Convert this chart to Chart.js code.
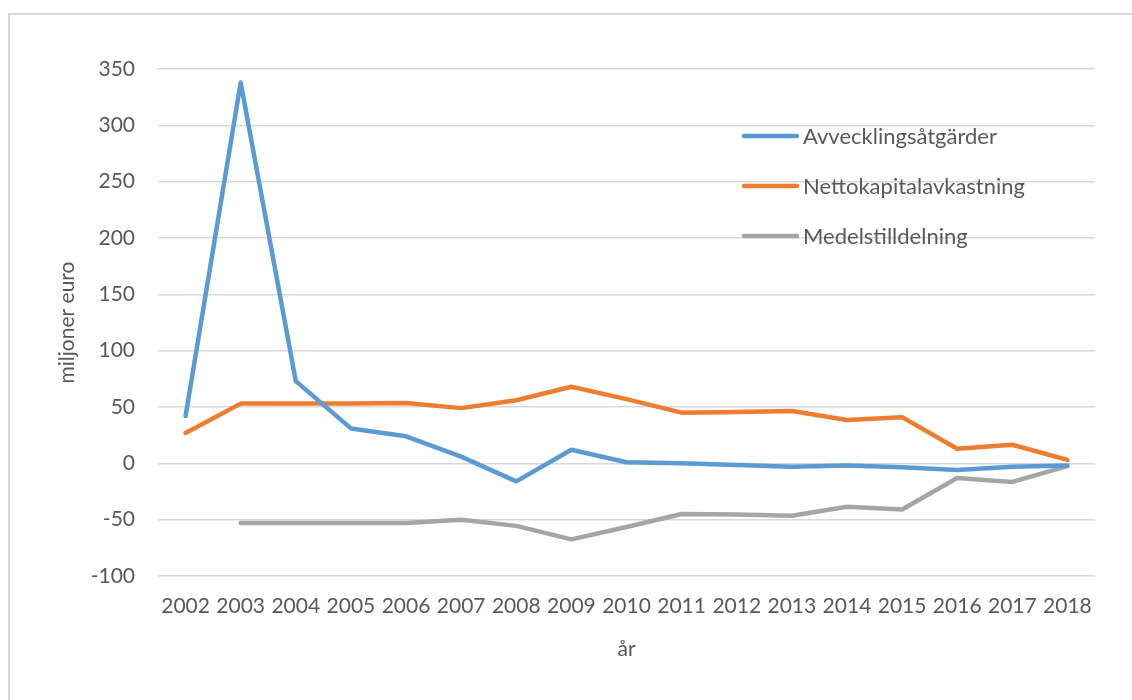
<!DOCTYPE html>
<html lang="sv">
<head>
<meta charset="utf-8">
<title>Avvecklingsåtgärder</title>
<script src="https://cdn.jsdelivr.net/npm/chart.js@4.4.1/dist/chart.umd.min.js"></script>
<style>
  html, body { margin: 0; padding: 0; background: #fff; overflow: hidden; }
  #frame {
    position: absolute; left: 8px; top: 13px;
    width: 1140px; height: 700px;
    border: 2px solid #d9d9d9;
    box-sizing: border-box;
  }
  #wrap { position: absolute; left: 0; top: 0; width: 1132px; height: 700px; }
</style>
</head>
<body>
<div id="frame"></div>
<div id="wrap"><canvas id="chart" width="1132" height="700"></canvas></div>
<script>
// Data
const years = ['2002', '2003', '2004', '2005', '2006', '2007', '2008', '2009', '2010',
               '2011', '2012', '2013', '2014', '2015', '2016', '2017', '2018'];
const avveckling = [42, 338, 73, 31, 24, 6, -16, 12, 1, 0, -1.5, -3, -2, -3.5, -6, -3, -2];
const netto      = [27, 53, 53, 53, 53.5, 49, 56, 68, 57, 45, 45.5, 46.5, 38.5, 41, 13, 16.5, 3];
const medel      = [null, -53, -53, -53, -53, -50, -55.5, -67.5, -56.5, -45, -45.5, -46.5, -38.5, -41, -13, -16.5, -2.5];

const textColor = '#595959';
const fontFamily = 'Lato, "Open Sans", sans-serif';

// Legend drawn inside the plot area, on the right
const insideLegend = {
    id: 'insideLegend',
    afterDraw(chart) {
        const ctx = chart.ctx;
        const x0 = 744, lineLen = 53, gap = 6;
        const y0 = 136, step = 50;
        ctx.save();
        ctx.font = '22px ' + fontFamily;
        ctx.textBaseline = 'middle';
        chart.data.datasets.forEach((ds, i) => {
            const y = y0 + i * step;
            ctx.strokeStyle = ds.borderColor;
            ctx.lineWidth = 4.5;
            ctx.lineCap = 'round';
            ctx.beginPath();
            ctx.moveTo(x0, y);
            ctx.lineTo(x0 + lineLen, y);
            ctx.stroke();
            ctx.fillStyle = textColor;
            ctx.fillText(ds.label, x0 + lineLen + gap, y + 1);
        });
        ctx.restore();
    }
};

const ctx = document.getElementById('chart').getContext('2d');
new Chart(ctx, {
    type: 'line',
    data: {
        labels: years,
        datasets: [
            { label: 'Avvecklingsåtgärder', data: avveckling, borderColor: '#5B9BD5' },
            { label: 'Nettokapitalavkastning', data: netto, borderColor: '#ED7D31' },
            { label: 'Medelstilldelning', data: medel, borderColor: '#A5A5A5' }
        ]
    },
    options: {
        responsive: false,
        animation: false,
        devicePixelRatio: 1,
        layout: {
            autoPadding: false,
            padding: { left: 55, right: 37, top: 69, bottom: 38 }
        },
        elements: {
            line: { borderWidth: 4.5, borderCapStyle: 'round', borderJoinStyle: 'round', tension: 0 },
            point: { radius: 0, hoverRadius: 0 }
        },
        plugins: {
            legend: { display: false },
            tooltip: { enabled: false }
        },
        scales: {
            x: {
                offset: true,
                grid: { display: false, drawTicks: false },
                border: { display: false },
                ticks: {
                    color: textColor,
                    font: { family: fontFamily, size: 21 },
                    padding: 18,
                    maxRotation: 0,
                    autoSkip: false
                },
                title: {
                    display: true,
                    text: 'år',
                    color: textColor,
                    font: { family: fontFamily, size: 21 },
                    padding: { top: 10, bottom: 0 }
                },
                afterFit(scale) { scale.height = 86; }
            },
            y: {
                min: -100,
                max: 350,
                grid: { color: '#d9d9d9', lineWidth: 1.5, drawTicks: false },
                border: { display: false },
                ticks: {
                    stepSize: 50,
                    color: textColor,
                    font: { family: fontFamily, size: 21 },
                    padding: 23
                },
                title: {
                    display: true,
                    text: 'miljoner euro',
                    color: textColor,
                    font: { family: fontFamily, size: 21 },
                    padding: { top: 0, bottom: 0 }
                },
                afterFit(scale) { scale.width = 103; }
            }
        }
    },
    plugins: [insideLegend]
});
</script>
</body>
</html>
